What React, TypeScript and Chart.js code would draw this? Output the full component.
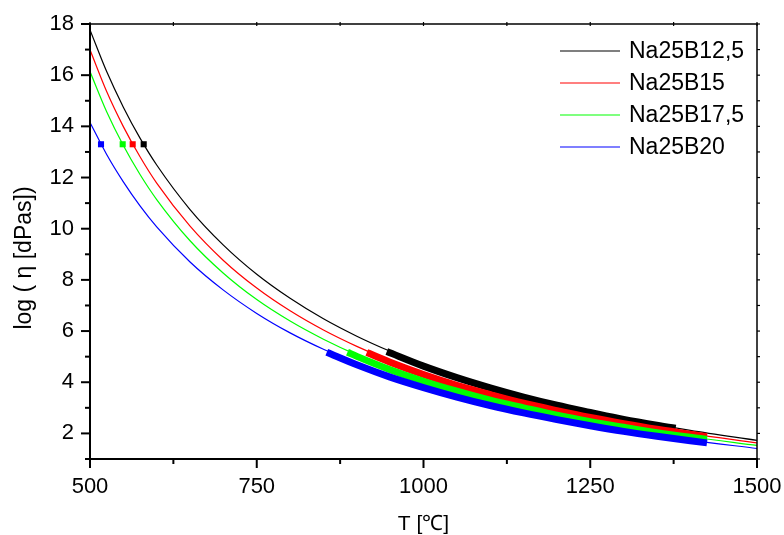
import React, { useEffect, useRef } from "react";
import { Chart, registerables } from "chart.js";

Chart.register(...registerables);

// ---- data ----
const seriesLabels = ["Na25B12,5", "Na25B15", "Na25B17,5", "Na25B20"];
const seriesColors = ["#000000", "#ff0000", "#00ff00", "#0000ff"];
const xTitle = "T [℃]";
const yTitle = "log ( η [dPas])";

// fitted curves (thin lines)
const temps = [500, 525, 550, 575, 600, 650, 700, 750, 800, 850, 900, 950, 1000, 1050, 1100, 1200, 1300, 1400, 1500];
const curveB125 = [17.77, 16.14, 14.75, 13.54, 12.49, 10.75, 9.36, 8.22, 7.28, 6.48, 5.8, 5.21, 4.69, 4.24, 3.83, 3.15, 2.59, 2.12, 1.73];
const curveB15 = [16.99, 15.36, 13.99, 12.81, 11.78, 10.1, 8.76, 7.68, 6.79, 6.04, 5.4, 4.84, 4.36, 3.94, 3.57, 2.93, 2.42, 1.99, 1.63];
const curveB175 = [16.14, 14.57, 13.25, 12.12, 11.14, 9.53, 8.26, 7.23, 6.39, 5.68, 5.07, 4.55, 4.1, 3.7, 3.35, 2.75, 2.27, 1.87, 1.53];
const curveB20 = [14.15, 12.9, 11.83, 10.89, 10.07, 8.7, 7.6, 6.69, 5.93, 5.29, 4.74, 4.26, 3.84, 3.47, 3.14, 2.58, 2.12, 1.74, 1.41];

// measured ranges (thick lines)
const measT125 = [945, 1000, 1050, 1100, 1150, 1200, 1250, 1300, 1378];
const meas125 = [5.2, 4.63, 4.18, 3.78, 3.42, 3.1, 2.82, 2.55, 2.2];
const measT15 = [915, 950, 1000, 1050, 1100, 1150, 1200, 1250, 1300, 1350, 1425];
const meas15 = [5.16, 4.78, 4.3, 3.88, 3.52, 3.18, 2.89, 2.62, 2.38, 2.16, 1.87];
const measT175 = [886, 900, 950, 1000, 1050, 1100, 1150, 1200, 1250, 1300, 1350, 1425];
const meas175 = [5.17, 5.01, 4.49, 4.04, 3.65, 3.3, 3.0, 2.71, 2.46, 2.24, 2.03, 1.76];
const measT20 = [855, 900, 950, 1000, 1050, 1100, 1150, 1200, 1250, 1300, 1350, 1425];
const meas20 = [5.17, 4.68, 4.2, 3.79, 3.42, 3.09, 2.8, 2.54, 2.3, 2.08, 1.89, 1.63];

// glass transition markers (log eta = 13.3)
const tgTemps = [580.5, 564, 549, 516.5];
const tgLogEta = [13.3, 13.3, 13.3, 13.3];

// axis ticks
const xMajorTicks = [500, 750, 1000, 1250, 1500];
const xMinorTicks = [625, 875, 1125, 1375];
const yMajorTicks = [2, 4, 6, 8, 10, 12, 14, 16, 18];
const yMinorTicks = [1, 3, 5, 7, 9, 11, 13, 15, 17];

const FONT = "'Liberation Sans', Arial, Helvetica, sans-serif";

const zip = (xs: number[], ys: number[]) => xs.map((x, i) => ({ x, y: ys[i] }));

const framePlugin = {
  id: "frameAndLegend",
  afterDraw(chart: any) {
    const { ctx, chartArea } = chart;
    const { left, right, top, bottom } = chartArea;
    const xs = chart.scales.x;
    const ys = chart.scales.y;
    const line = (x1: number, y1: number, x2: number, y2: number) => {
      ctx.beginPath();
      ctx.moveTo(x1, y1);
      ctx.lineTo(x2, y2);
      ctx.stroke();
    };
    ctx.save();
    ctx.strokeStyle = "#000";
    ctx.lineCap = "butt";
    // top / right frame
    ctx.lineWidth = 1.5;
    line(left, top, right + 0.75, top);
    line(right, top, right, bottom);
    // axes
    ctx.lineWidth = 2;
    line(left - 1, bottom, right + 1, bottom);
    line(left, top - 1, left, bottom + 1);
    // x ticks
    xMajorTicks.forEach((v) => {
      const p = xs.getPixelForValue(v);
      ctx.lineWidth = 2;
      line(p, bottom, p, bottom + 9);
      ctx.lineWidth = 1.2;
      line(p, top - 2, p, top + 2);
    });
    xMinorTicks.forEach((v) => {
      const p = xs.getPixelForValue(v);
      ctx.lineWidth = 2;
      line(p, bottom, p, bottom + 5);
      ctx.lineWidth = 1.2;
      line(p, top - 2, p, top + 2);
    });
    yMajorTicks.forEach((v) => {
      const p = ys.getPixelForValue(v);
      ctx.lineWidth = 2;
      line(left - 9, p, left, p);
      ctx.lineWidth = 1.2;
      line(right, p, right + 3, p);
    });
    yMinorTicks.forEach((v) => {
      const p = ys.getPixelForValue(v);
      ctx.lineWidth = 2;
      line(left - 5, p, left, p);
      ctx.lineWidth = 1.2;
      line(right, p, right + 3, p);
    });
    // axis titles
    ctx.fillStyle = "#000";
    ctx.textAlign = "center";
    ctx.textBaseline = "alphabetic";
    ctx.font = `21px ${FONT}`;
    ctx.fillText(xTitle, (left + right) / 2, 530);
    ctx.save();
    ctx.translate(31, 258);
    ctx.rotate(-Math.PI / 2);
    ctx.font = `23px ${FONT}`;
    ctx.fillText(yTitle, 0, 0);
    ctx.restore();
    // legend
    ctx.font = `23px ${FONT}`;
    ctx.textBaseline = "middle";
    ctx.textAlign = "left";
    seriesLabels.forEach((lab, i) => {
      const yy = top + 27 + i * 32;
      ctx.strokeStyle = seriesColors[i];
      ctx.lineWidth = 1.2;
      line(right - 197, yy, right - 137, yy);
      ctx.fillText(lab, right - 128, yy + 1);
    });
    ctx.restore();
  },
};

export default function App() {
  const ref = useRef<HTMLCanvasElement>(null);
  useEffect(() => {
    if (!ref.current) return;
    const curves = [curveB125, curveB15, curveB175, curveB20];
    const measT = [measT125, measT15, measT175, measT20];
    const meas = [meas125, meas15, meas175, meas20];
    const datasets: any[] = [];
    curves.forEach((c, i) => {
      datasets.push({
        label: seriesLabels[i],
        data: zip(temps, c),
        borderColor: seriesColors[i],
        borderWidth: 1.2,
        pointRadius: 0,
        cubicInterpolationMode: "monotone",
        fill: false,
        order: 3,
      });
    });
    meas.forEach((m, i) => {
      datasets.push({
        label: seriesLabels[i] + " meas",
        data: zip(measT[i], m),
        borderColor: seriesColors[i],
        borderWidth: 7,
        borderCapStyle: "butt",
        pointRadius: 0,
        cubicInterpolationMode: "monotone",
        fill: false,
        order: 3 - i * 0.1,
      });
    });
    tgTemps.forEach((t, i) => {
      datasets.push({
        label: seriesLabels[i] + " Tg",
        data: [{ x: t, y: tgLogEta[i] }],
        showLine: false,
        pointStyle: "rect",
        pointRadius: 4.3,
        borderWidth: 0,
        backgroundColor: seriesColors[i],
        borderColor: seriesColors[i],
        order: 1,
      });
    });
    const chart = new Chart(ref.current, {
      type: "line",
      data: { datasets },
      options: {
        responsive: false,
        animation: false,
        layout: { padding: { top: 24, right: 27, left: 0, bottom: 0 } },
        plugins: { legend: { display: false }, tooltip: { enabled: false } },
        scales: {
          x: {
            type: "linear",
            min: 500,
            max: 1500,
            afterBuildTicks: (s: any) => {
              s.ticks = xMajorTicks.map((v) => ({ value: v }));
            },
            afterFit: (s: any) => {
              s.height = 76;
              s.paddingLeft = 0;
              s.paddingRight = 0;
            },
            grid: { display: false, drawTicks: false },
            border: { display: false },
            ticks: {
              font: { family: FONT, size: 22 },
              color: "#000",
              padding: 15,
              maxRotation: 0,
              autoSkip: false,
              callback: (v: any) => String(v),
            },
            title: { display: false },
          },
          y: {
            type: "linear",
            min: 1,
            max: 18,
            afterBuildTicks: (s: any) => {
              s.ticks = yMajorTicks.map((v) => ({ value: v }));
            },
            afterFit: (s: any) => {
              s.width = 90;
              s.paddingTop = 0;
              s.paddingBottom = 0;
            },
            grid: { display: false, drawTicks: false },
            border: { display: false },
            ticks: {
              font: { family: FONT, size: 22 },
              color: "#000",
              padding: 16,
              autoSkip: false,
              callback: (v: any) => String(v),
            },
            title: { display: false },
          },
        },
      },
      plugins: [framePlugin],
    });
    return () => chart.destroy();
  }, []);
  return (
    <div style={{ position: "absolute", left: 0, top: 0, width: 784, height: 535, background: "#fff" }}>
      <canvas ref={ref} width={784} height={535} />
    </div>
  );
}
